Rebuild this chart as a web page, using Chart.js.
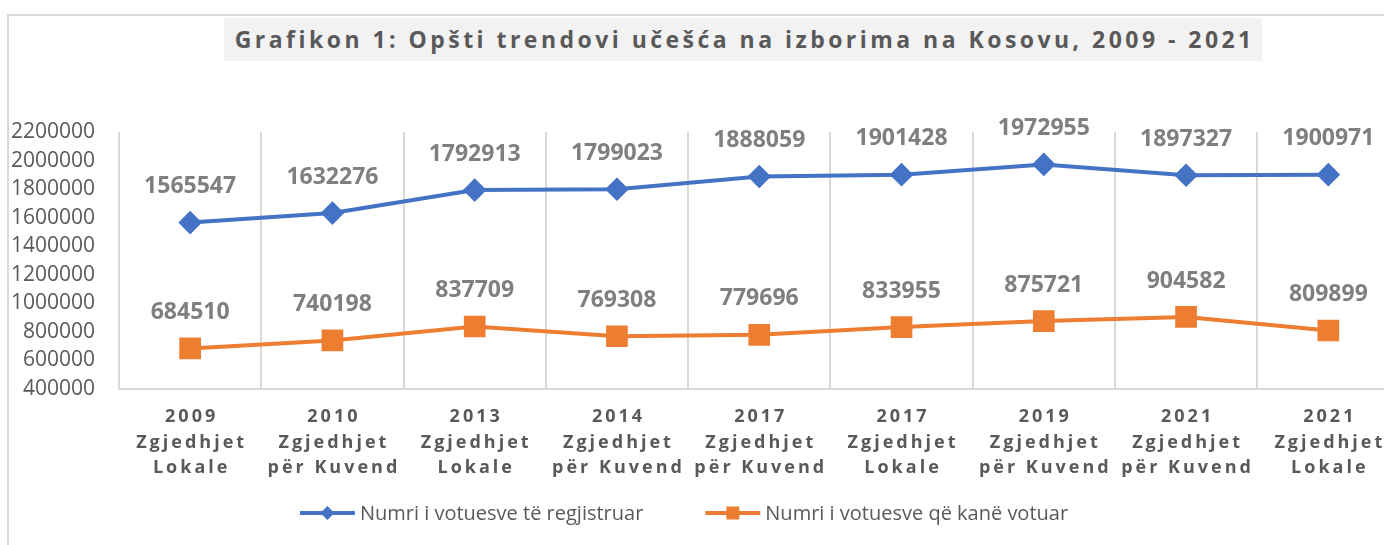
<!DOCTYPE html>
<html>
<head>
<meta charset="utf-8">
<script src="https://cdn.jsdelivr.net/npm/chart.js@4/dist/chart.umd.min.js"></script>
<style>
html, body { margin: 0; padding: 0; background: #fff; overflow: hidden; width: 1384px; height: 545px; }
#frame { position: absolute; left: 7px; top: 14px; width: 1420px; height: 580px; border: 2px solid #d9d9d9; box-sizing: border-box; }
#title { position: absolute; left: 224px; top: 18px; width: 1038px; height: 43px; background: #f2f2f2; color: #595959;
  font: bold 23px 'Open Sans'; line-height: 43px; text-align: center; white-space: nowrap; }
#wrap { position: absolute; left: 0; top: 0; width: 1416px; height: 545px; }
</style>
</head>
<body>
<div id="frame"></div>
<div id="title">Grafikon 1: Opšti trendovi učešća na izborima na Kosovu, 2009 - 2021</div>
<div id="wrap"><canvas id="myChart" width="1416" height="545"></canvas></div>
<script>
var categories = [
    ['2009', 'Zgjedhjet', 'Lokale'],
    ['2010', 'Zgjedhjet', 'për Kuvend'],
    ['2013', 'Zgjedhjet', 'Lokale'],
    ['2014', 'Zgjedhjet', 'për Kuvend'],
    ['2017', 'Zgjedhjet', 'për Kuvend'],
    ['2017', 'Zgjedhjet', 'Lokale'],
    ['2019', 'Zgjedhjet', 'për Kuvend'],
    ['2021', 'Zgjedhjet', 'për Kuvend'],
    ['2021', 'Zgjedhjet', 'Lokale']
];
var registered = [1565547, 1632276, 1792913, 1799023, 1888059, 1901428, 1972955, 1897327, 1900971];
var voted = [684510, 740198, 837709, 769308, 779696, 833955, 875721, 904582, 809899];
var seriesNames = ['Numri i votuesve të regjistruar', 'Numri i votuesve që kanë votuar'];
var yMin = 400000, yMax = 2200000, yStep = 200000;

var blue = '#4472c4', orange = '#ed7d31', grey = '#595959';

// spread the title out like the original
(function () {
    var t = document.getElementById('title');
    var c = document.createElement('canvas').getContext('2d');
    c.font = "bold 23px 'Open Sans'";
    var w = c.measureText(t.textContent).width;
    var ls = (1020 - w) / t.textContent.length;
    t.style.letterSpacing = ls + 'px';
    t.style.textIndent = ls + 'px';
})();

var labelsPlugin = {
    id: 'labels',
    afterDatasetsDraw: function (chart) {
        var ctx = chart.ctx;
        ctx.save();
        ctx.font = "bold 23px 'Open Sans'";
        ctx.fillStyle = '#7f7f7f';
        ctx.textAlign = 'center';
        ctx.textBaseline = 'middle';
        chart.data.datasets.forEach(function (ds, di) {
            chart.getDatasetMeta(di).data.forEach(function (pt, i) {
                ctx.fillText(String(ds.data[i]), pt.x, pt.y - 36);
            });
        });
        ctx.restore();
    },
    afterDraw: function (chart) {
        var ctx = chart.ctx;
        var xs = chart.scales.x;
        var bottom = chart.chartArea.bottom;
        ctx.save();
        // category labels
        ctx.font = "bold 18px 'Open Sans'";
        ctx.fillStyle = grey;
        ctx.textAlign = 'center';
        ctx.textBaseline = 'middle';
        ctx.letterSpacing = '3px';
        categories.forEach(function (lines, i) {
            var x = xs.getPixelForValue(i) + 1.5;
            lines.forEach(function (s, j) {
                ctx.fillText(s, x, bottom + 28 + j * 25.5);
            });
        });
        ctx.letterSpacing = '0px';
        // legend
        ctx.font = "20px 'Open Sans'";
        ctx.textAlign = 'left';
        var lineW = 55, gap = 5, between = 62;
        var widths = seriesNames.map(function (s) { return ctx.measureText(s).width; });
        var total = lineW * 2 + gap * 2 + widths[0] + widths[1] + between;
        var x0 = 684 - total / 2, y = 513;
        chart.data.datasets.forEach(function (ds, di) {
            ctx.strokeStyle = ds.borderColor;
            ctx.fillStyle = ds.borderColor;
            ctx.lineWidth = 4;
            ctx.beginPath();
            ctx.moveTo(x0, y);
            ctx.lineTo(x0 + lineW, y);
            ctx.stroke();
            var cx = x0 + lineW / 2;
            ctx.beginPath();
            if (ds.pointStyle === 'rectRot') {
                ctx.moveTo(cx - 7, y); ctx.lineTo(cx, y - 7); ctx.lineTo(cx + 7, y); ctx.lineTo(cx, y + 7);
            } else {
                ctx.rect(cx - 6.5, y - 6.5, 13, 13);
            }
            ctx.closePath();
            ctx.fill();
            ctx.fillStyle = grey;
            ctx.fillText(seriesNames[di], x0 + lineW + gap, y + 1);
            x0 += lineW + gap + widths[di] + between;
        });
        ctx.restore();
    }
};

var ctx = document.getElementById('myChart').getContext('2d');
var myChart = new Chart(ctx, {
    type: 'line',
    data: {
        labels: categories,
        datasets: [{
            label: seriesNames[0],
            data: registered,
            borderColor: blue,
            backgroundColor: blue,
            borderWidth: 4,
            pointStyle: 'rectRot',
            pointRadius: 9,
            pointHoverRadius: 9,
            tension: 0
        }, {
            label: seriesNames[1],
            data: voted,
            borderColor: orange,
            backgroundColor: orange,
            borderWidth: 4,
            pointStyle: 'rect',
            pointRadius: 12.5,
            pointHoverRadius: 12.5,
            tension: 0
        }]
    },
    options: {
        responsive: false,
        animation: false,
        devicePixelRatio: 1,
        layout: { padding: { left: 0, top: 132, right: 12, bottom: 156 } },
        plugins: { legend: { display: false }, title: { display: false }, tooltip: { enabled: false } },
        scales: {
            x: {
                offset: true,
                ticks: { display: false },
                grid: { offset: true, color: '#d9d9d9', lineWidth: 2, drawTicks: false },
                border: { color: '#d9d9d9', width: 2 },
                afterFit: function (s) { s.height = 0; }
            },
            y: {
                min: yMin,
                max: yMax,
                ticks: {
                    stepSize: yStep, color: grey, font: { family: 'Open Sans', size: 21 }, padding: 24,
                    callback: function (v) { return String(v); }
                },
                grid: { display: false, drawTicks: false },
                border: { display: false },
                afterFit: function (s) { s.width = 119; }
            }
        }
    },
    plugins: [labelsPlugin]
});
</script>
</body>
</html>
